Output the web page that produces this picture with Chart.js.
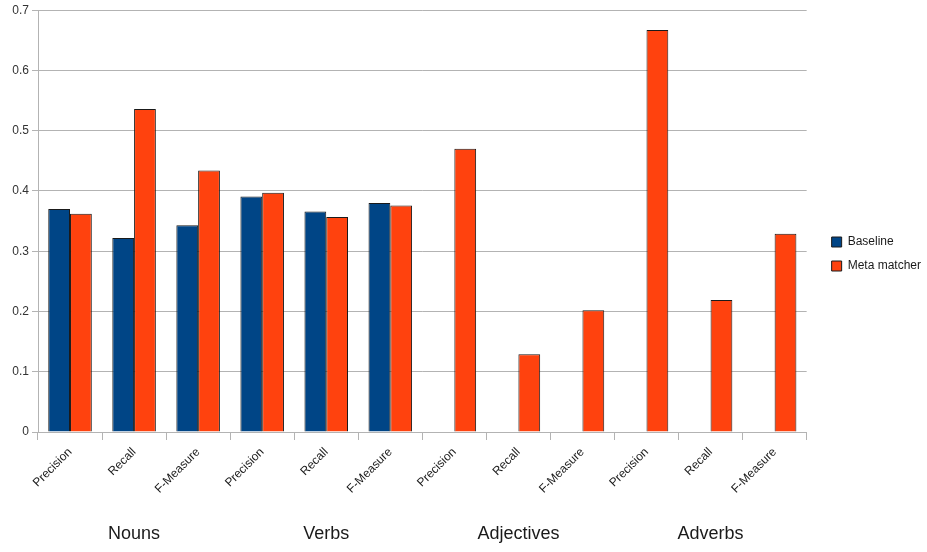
<!DOCTYPE html>
<html>
<head>
<meta charset="utf-8">
<script src="https://cdn.jsdelivr.net/npm/chart.js@4.4.1/dist/chart.umd.min.js"></script>
<style>
  html, body { margin: 0; padding: 0; background: #ffffff; }
  #wrap { position: relative; width: 927px; height: 552px; }
</style>
</head>
<body>
<div id="wrap"><canvas id="c" width="927" height="552"></canvas></div>
<script>
const categories = ["Precision", "Recall", "F-Measure", "Precision", "Recall", "F-Measure",
                    "Precision", "Recall", "F-Measure", "Precision", "Recall", "F-Measure"];
const groups = ["Nouns", "Verbs", "Adjectives", "Adverbs"];
const baseline = [0.370, 0.322, 0.343, 0.391, 0.366, 0.380, null, null, null, null, null, null];
const metaMatcher = [0.362, 0.536, 0.434, 0.397, 0.357, 0.376, 0.470, 0.129, 0.202, 0.667, 0.219, 0.329];
const yTicks = [0, 0.1, 0.2, 0.3, 0.4, 0.5, 0.6, 0.7];

const groupLabels = categories.map((_, i) => (i % 3 === 1 ? groups[(i - 1) / 3] : ''));

const FONT = "'Liberation Sans', Arial, sans-serif";
const GRID = "#b3b3b3";

// shift the legend block to where the reference places it
const legendShift = {
  id: 'legendShift',
  afterLayout(chart) {
    const lg = chart.legend;
    if (!lg) return;
    lg.left += 13; lg.right += 13;
    lg.top -= 25; lg.bottom -= 25;
  }
};

new Chart(document.getElementById('c'), {
  type: 'bar',
  data: {
    labels: categories,
    datasets: [
      { label: 'Baseline', data: baseline, backgroundColor: '#004586', borderColor: '#1a1a1a', borderWidth: 1,
        categoryPercentage: 0.68, barPercentage: 1.0 },
      { label: 'Meta matcher', data: metaMatcher, backgroundColor: '#ff420e', borderColor: '#1a1a1a', borderWidth: 1,
        categoryPercentage: 0.68, barPercentage: 1.0 }
    ]
  },
  plugins: [legendShift],
  options: {
    responsive: false,
    animation: false,
    layout: { padding: { top: 6, right: 9, bottom: 0, left: 0 } },
    plugins: {
      legend: {
        position: 'right',
        align: 'center',
        labels: {
          boxWidth: 10, boxHeight: 10, padding: 12,
          color: '#1a1a1a',
          font: { family: FONT, size: 12 }
        }
      },
      tooltip: { enabled: false }
    },
    scales: {
      x: {
        type: 'category',
        offset: true,
        grid: {
          offset: true,
          drawOnChartArea: true,
          color: (ctx) => (ctx.index === categories.length ? GRID : 'rgba(0,0,0,0)'),
          tickColor: GRID,
          tickLength: 8,
          lineWidth: 1
        },
        border: { display: true, color: GRID },
        ticks: {
          minRotation: 45, maxRotation: 45, autoSkip: false,
          color: '#1a1a1a', padding: 5,
          font: { family: FONT, size: 12 }
        },
        afterFit: (s) => { s.height = 88; }
      },
      groups: {
        type: 'category',
        labels: groupLabels,
        offset: true,
        position: 'bottom',
        grid: { display: false, drawTicks: false },
        border: { display: false },
        ticks: {
          color: '#1a1a1a', padding: 3, minRotation: 0, maxRotation: 0, autoSkip: false,
          font: { family: FONT, size: 18 }
        },
        afterFit: (s) => { s.height = 32; }
      },
      y: {
        min: 0, max: 0.7,
        afterBuildTicks: (s) => { s.ticks = yTicks.map(v => ({ value: v })); },
        grid: { color: GRID, tickColor: GRID, tickLength: 6 },
        border: { display: true, color: GRID },
        ticks: {
          color: '#333333', padding: 3,
          font: { family: FONT, size: 12 },
          callback: (v) => (v === 0 ? '0' : v.toFixed(1))
        },
        afterFit: (s) => { s.width = 38; }
      }
    }
  }
});
</script>
</body>
</html>
